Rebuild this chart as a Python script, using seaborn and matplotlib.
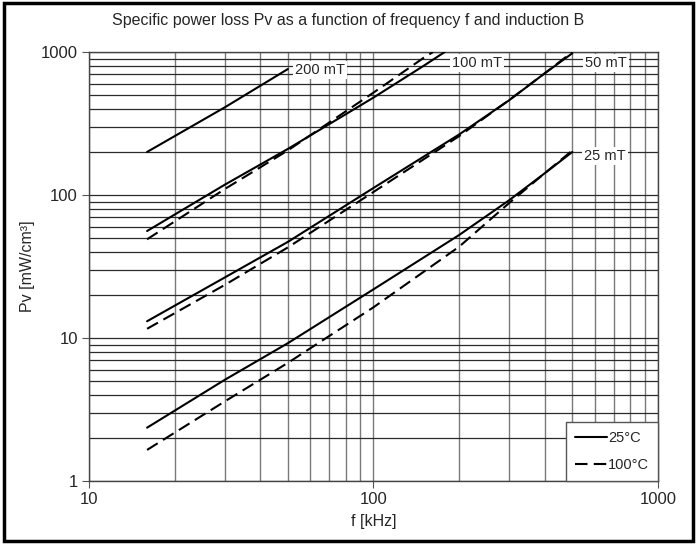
import numpy as np
import pandas as pd
import matplotlib
matplotlib.use("Agg")
import matplotlib.pyplot as plt
from matplotlib.lines import Line2D
from matplotlib.patches import Rectangle
import seaborn as sns

# ---- data ----
f_200_25 = [16, 30, 50]
pv_200_25 = [200, 410, 760]

f_100_25 = [16, 30, 50, 100, 150, 178]
pv_100_25 = [56, 118, 210, 480, 800, 1000]
f_100_100 = [16, 30, 50, 100, 150, 162]
pv_100_100 = [49, 110, 205, 520, 910, 1000]

f_50_25 = [16, 30, 50, 100, 200, 300, 400, 500]
pv_50_25 = [13.1, 26.5, 47, 112, 265, 460, 710, 980]
f_50_100 = [16, 30, 50, 100, 200, 300, 400, 500]
pv_50_100 = [11.6, 23.5, 43, 105, 258, 462, 710, 1000]

f_25_25 = [16, 30, 50, 100, 200, 300, 400, 500]
pv_25_25 = [2.36, 5.1, 9.2, 21.9, 52.5, 92, 142, 200]
f_25_100 = [16, 30, 50, 100, 200, 300, 400, 500]
pv_25_100 = [1.65, 3.6, 6.7, 16.4, 43.5, 88, 142, 205]

curve_labels = ["200 mT", "100 mT", "50 mT", "25 mT"]
temp_labels = ["25°C", "100°C"]
title = "Specific power loss Pv as a function of frequency f and induction B"
xlabel = "f [kHz]"
ylabel = "Pv [mW/cm³]"

series = [
    ("200 mT", "25°C", f_200_25, pv_200_25),
    ("100 mT", "25°C", f_100_25, pv_100_25),
    ("100 mT", "100°C", f_100_100, pv_100_100),
    ("50 mT", "25°C", f_50_25, pv_50_25),
    ("50 mT", "100°C", f_50_100, pv_50_100),
    ("25 mT", "25°C", f_25_25, pv_25_25),
    ("25 mT", "100°C", f_25_100, pv_25_100),
]
rows = []
for b, t, fs, ps in series:
    for fv, pv in zip(fs, ps):
        rows.append({"f": fv, "Pv": pv, "B": b, "T": t, "id": b + t})
df = pd.DataFrame(rows)

sns.set_style("white")
plt.rcParams["font.family"] = ["Liberation Sans", "DejaVu Sans"]

fig = plt.figure(figsize=(6.97, 5.44), dpi=100)
ax = fig.add_axes([0.1277, 0.1158, 0.8163, 0.7886])
ax.set_xscale("log")
ax.set_yscale("log")

sns.lineplot(data=df, x="f", y="Pv", units="id", style="T", estimator=None,
             sort=False, color="black", linewidth=1.5,
             dashes={"25°C": "", "100°C": (6, 3)}, legend=False, ax=ax, zorder=3)

ax.set_xlim(10, 1000)
ax.set_ylim(1, 1000)
ax.set_xticks([10, 100, 1000])
ax.set_xticklabels(["10", "100", "1000"])
ax.set_yticks([1, 10, 100, 1000])
ax.set_yticklabels(["1", "10", "100", "1000"])
ax.tick_params(which="major", direction="out", length=5, width=0.8, color="#555555",
               labelsize=12, pad=3, bottom=True, left=True)
ax.tick_params(which="minor", length=0)

ax.xaxis.grid(True, which="both", color="#7a7a7a", linewidth=1.0)
ax.yaxis.grid(True, which="both", color="#2a2a2a", linewidth=0.9)
ax.set_axisbelow(True)
for s in ax.spines.values():
    s.set_color("#444444")
    s.set_linewidth(1.0)

ax.set_xlabel(xlabel, fontsize=11.5, labelpad=5)
ax.set_ylabel(ylabel, fontsize=11.5, labelpad=4)
fig.text(0.5, 0.962, title, ha="center", va="center", fontsize=11.5)

bbox = dict(facecolor="white", edgecolor="none", pad=1.5)
ax.text(53, 750, curve_labels[0], ha="left", va="center", fontsize=10.5, bbox=bbox, zorder=4)
ax.text(189, 840, curve_labels[1], ha="left", va="center", fontsize=10.5, bbox=bbox, zorder=4)
ax.text(553, 840, curve_labels[2], ha="left", va="center", fontsize=10.5, bbox=bbox, zorder=4)
ax.text(550, 187, curve_labels[3], ha="left", va="center", fontsize=10.5, bbox=bbox, zorder=4)

handles = [Line2D([0], [0], color="black", lw=1.5),
           Line2D([0], [0], color="black", lw=1.5, dashes=(6, 3))]
leg = ax.legend(handles, temp_labels, loc="lower right", fontsize=10.5, frameon=True,
                fancybox=False, borderaxespad=0.0, handlelength=2.2, handletextpad=0.1,
                borderpad=0.6, labelspacing=0.9)
leg.get_frame().set_edgecolor("#555555")
leg.get_frame().set_linewidth(1.0)
leg.get_frame().set_alpha(1)
leg.set_zorder(5)

fig.patches.append(Rectangle((0.006, 0.006), 0.988, 0.988, transform=fig.transFigure,
                             fill=False, edgecolor="black", linewidth=2.5))

fig.savefig("out.png", dpi=100)
